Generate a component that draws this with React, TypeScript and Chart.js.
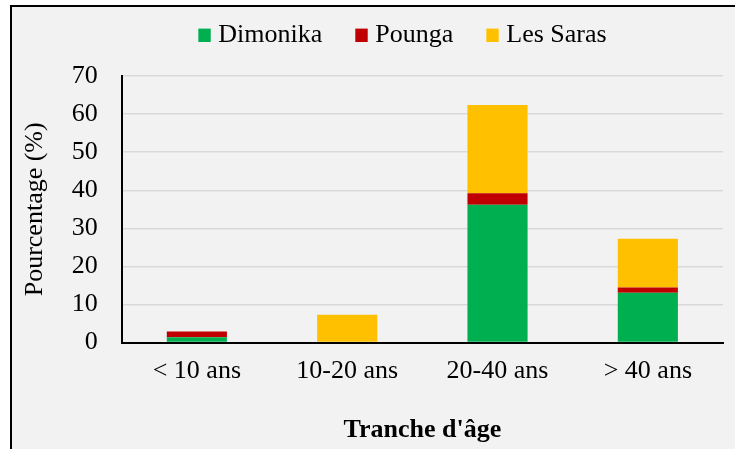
import React, { useEffect, useRef } from "react";
import { Chart, registerables } from "chart.js";

Chart.register(...registerables);

// ---- Data ----
const categories = ["< 10 ans", "10-20 ans", "20-40 ans", "> 40 ans"];
const seriesNames = ["Dimonika", "Pounga", "Les Saras"];
const dimonika = [1.4, 0, 36.2, 13.1];
const pounga = [1.5, 0, 3.0, 1.4];
const lesSaras = [0, 7.3, 23.2, 12.8];
const seriesColors = ["#00B050", "#C00000", "#FFC000"];
const yMin = 0;
const yMax = 70;
const yStep = 10;
const yTitle = "Pourcentage (%)";
const xTitle = "Tranche d'âge";

const FONT = '"Liberation Serif", "Times New Roman", serif';

// Custom legend drawn at the top of the chart
const LEGEND = { centerX: 402.5, baseline: 42, boxW: 12.4, boxH: 13.4, boxGap: 7.6, itemGap: 33 };

const topLegend = {
  id: "topLegend",
  afterDraw(chart: any) {
    const ctx = chart.ctx as CanvasRenderingContext2D;
    const ds = chart.data.datasets;
    ctx.save();
    ctx.font = `26px ${FONT}`;
    ctx.textBaseline = "alphabetic";
    ctx.textAlign = "left";
    const widths = ds.map((d: any) => ctx.measureText(d.label).width);
    const total =
      widths.reduce((a: number, w: number) => a + LEGEND.boxW + LEGEND.boxGap + w, 0) +
      LEGEND.itemGap * (ds.length - 1);
    let x = LEGEND.centerX - total / 2;
    ds.forEach((d: any, i: number) => {
      ctx.fillStyle = d.backgroundColor;
      ctx.fillRect(x, LEGEND.baseline - LEGEND.boxH, LEGEND.boxW, LEGEND.boxH);
      x += LEGEND.boxW + LEGEND.boxGap;
      ctx.fillStyle = "#000";
      ctx.fillText(d.label, x, LEGEND.baseline);
      x += widths[i] + LEGEND.itemGap;
    });
    ctx.restore();
  },
};

export default function App() {
  const ref = useRef<HTMLCanvasElement>(null);

  useEffect(() => {
    const values = [dimonika, pounga, lesSaras];
    const chart = new Chart(ref.current as HTMLCanvasElement, {
      type: "bar",
      data: {
        labels: categories,
        datasets: seriesNames.map((name, i) => ({
          label: name,
          data: values[i],
          backgroundColor: seriesColors[i],
          borderWidth: 0,
          barPercentage: 0.5,
          categoryPercentage: 0.8,
        })),
      },
      options: {
        responsive: false,
        animation: false,
        devicePixelRatio: 1,
        layout: { padding: { top: 76, right: 12, bottom: 0, left: 0 } },
        plugins: {
          legend: { display: false },
          tooltip: { enabled: false },
        },
        scales: {
          x: {
            stacked: true,
            grid: { display: false, drawTicks: false },
            border: { display: true, color: "#000", width: 2 },
            ticks: {
              color: "#000",
              padding: 13,
              font: { family: FONT, size: 26 },
            },
            title: {
              display: true,
              text: xTitle,
              color: "#000",
              font: { family: FONT, size: 26, weight: "bold" },
              padding: { top: 15, bottom: 3 },
            },
          },
          y: {
            stacked: true,
            min: yMin,
            max: yMax,
            grid: { color: "#D9D9D9", lineWidth: 1.5, drawTicks: false },
            border: { display: true, color: "#000", width: 2 },
            ticks: {
              stepSize: yStep,
              color: "#000",
              padding: 24,
              font: { family: FONT, size: 26 },
            },
            title: {
              display: true,
              text: yTitle,
              color: "#000",
              font: { family: FONT, size: 26 },
              padding: { top: 19.5, bottom: -3 },
            },
          },
        },
      },
      plugins: [topLegend],
    } as any);
    return () => chart.destroy();
  }, []);

  return (
    <div
      style={{
        position: "fixed",
        left: 0,
        top: 0,
        width: 735,
        height: 449,
        background: "#fff",
        overflow: "hidden",
      }}
    >
      <div
        style={{
          position: "absolute",
          left: 9.5,
          top: 5,
          width: 780,
          height: 500,
          border: "2.5px solid #000",
          background: "#F2F2F2",
          boxSizing: "border-box",
        }}
      />
      <canvas
        ref={ref}
        width={735}
        height={449}
        style={{ position: "absolute", left: 0, top: 0, width: 735, height: 449 }}
      />
    </div>
  );
}
